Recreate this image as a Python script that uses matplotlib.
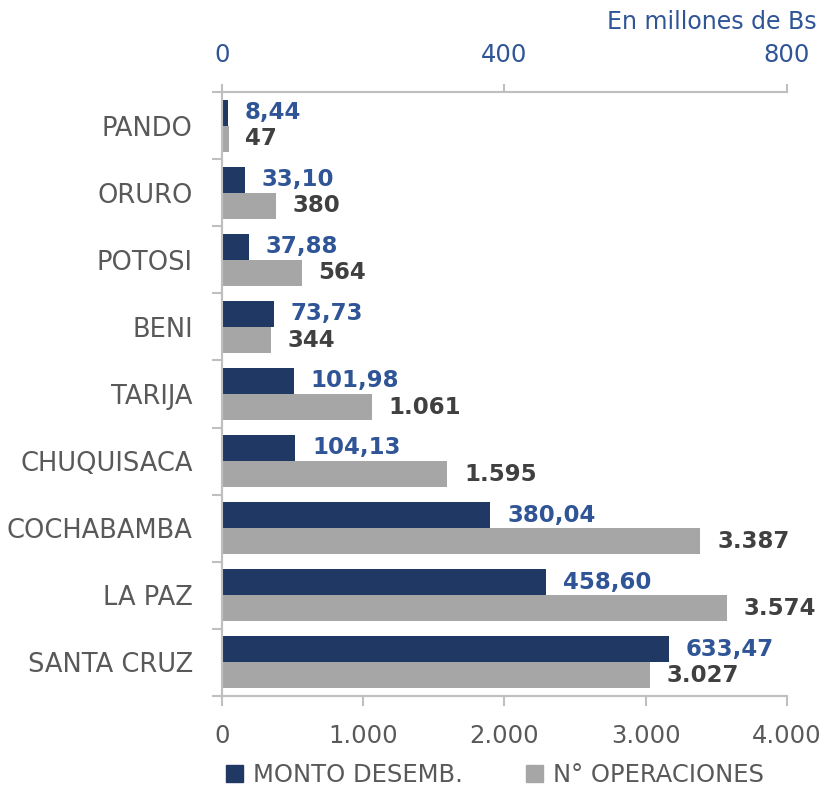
import numpy as np
import matplotlib.pyplot as plt
from matplotlib.patches import Patch
from matplotlib.ticker import FuncFormatter

# departamentos, de arriba hacia abajo
deptos = ["PANDO", "ORURO", "POTOSI", "BENI", "TARIJA",
          "CHUQUISACA", "COCHABAMBA", "LA PAZ", "SANTA CRUZ"]
# monto desembolsado (millones de Bs)
monto = [8.44, 33.10, 37.88, 73.73, 101.98, 104.13, 380.04, 458.60, 633.47]
# numero de operaciones
operaciones = [47, 380, 564, 344, 1061, 1595, 3387, 3574, 3027]

navy = "#203864"
gris = "#A6A6A6"
azul_txt = "#2F5597"
osc_txt = "#404040"
eje_txt = "#595959"
spine_col = "#BFBFBF"

plt.rcParams['font.family'] = ['DejaVu Sans']

fig = plt.figure(figsize=(8.25, 7.88), dpi=100)
ax = fig.add_axes([0.269, 0.117, 0.685, 0.766])
ax2 = ax.twiny()

y = np.arange(len(deptos))
h = 0.39

# barras grises en eje inferior (operaciones)
ax.barh(y + h / 2, operaciones, height=h, color=gris)
# barras azules en eje superior (monto)
ax2.barh(y - h / 2, monto, height=h, color=navy)

ax.set_xlim(0, 4000)
ax2.set_xlim(0, 800)
ax.set_ylim(len(deptos) - 0.5, -0.5)

# etiquetas de valores
for i in range(len(deptos)):
    ax2.annotate(f"{monto[i]:.2f}".replace(".", ","), (monto[i], y[i] - h / 2),
                 xytext=(12, 0), textcoords="offset points", va="center", ha="left",
                 color=azul_txt, fontsize=16.5, fontweight="bold")
    ax.annotate(f"{operaciones[i]:,}".replace(",", "."), (operaciones[i], y[i] + h / 2),
                xytext=(12, 0), textcoords="offset points", va="center", ha="left",
                color=osc_txt, fontsize=16.5, fontweight="bold")

# eje inferior
ax.set_xticks([0, 1000, 2000, 3000, 4000])
ax.xaxis.set_major_formatter(FuncFormatter(lambda v, p: f"{int(v):,}".replace(",", ".")))
ax.tick_params(axis="x", colors=spine_col, labelcolor=eje_txt, labelsize=17.5,
               length=7, width=1.5, pad=13)

# eje superior
ax2.set_xticks([0, 400, 800])
ax2.tick_params(axis="x", colors=spine_col, labelcolor=azul_txt, labelsize=17.5,
                length=6, width=1.5, pad=12)

# eje izquierdo: etiquetas al centro, marcas entre categorias
ax.set_yticks(y)
ax.set_yticklabels(deptos)
ax.set_yticks(np.arange(len(deptos) + 1) - 0.5, minor=True)
ax.tick_params(axis="y", which="major", length=0, pad=21, labelsize=18.5, labelcolor=eje_txt)
ax.tick_params(axis="y", which="minor", length=7, width=1.5, color=spine_col)

for a in (ax, ax2):
    a.spines["right"].set_visible(False)
    for s in ("left", "top", "bottom"):
        a.spines[s].set_color(spine_col)
        a.spines[s].set_linewidth(1.5)

fig.text(0.99, 0.972, "En millones de Bs", ha="right", va="center",
         color=azul_txt, fontsize=17)

handles = [Patch(color=navy, label="MONTO DESEMB."),
           Patch(color=gris, label="N° OPERACIONES")]
fig.legend(handles=handles, loc="center", bbox_to_anchor=(0.6, 0.017), ncol=2,
           frameon=False, fontsize=17.5, handlelength=0.7, handleheight=0.7,
           handletextpad=0.4, columnspacing=2.6, labelcolor=eje_txt)

fig.savefig("out.png", dpi=100)
